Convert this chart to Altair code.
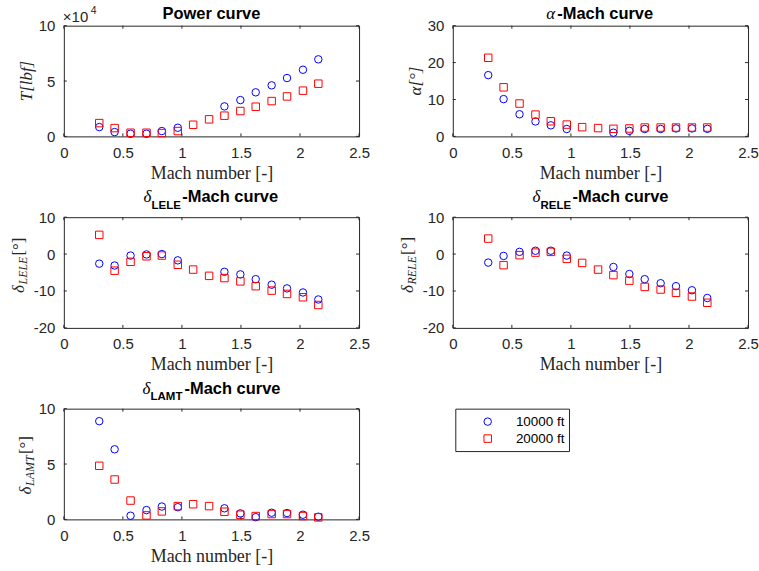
import altair as alt
import pandas as pd

# ---------------- data ----------------
series_names = ["10000 ft", "20000 ft"]
series_colors = ["#0000FF", "#FF0000"]
series_shapes = ["circle", "square"]

mach_10k = [0.30, 0.43, 0.565, 0.70, 0.83, 0.965, 1.36, 1.495, 1.625, 1.76, 1.89, 2.025, 2.155]
mach_20k = [0.30, 0.43, 0.565, 0.70, 0.83, 0.965, 1.095, 1.23, 1.36, 1.495, 1.625, 1.76, 1.89, 2.025, 2.155]

# thrust in units of 1e4 lbf
thrust_10k = [0.84, 0.39, 0.24, 0.24, 0.48, 0.78, 2.71, 3.28, 3.98, 4.61, 5.27, 6.02, 6.96]
thrust_20k = [1.20, 0.75, 0.33, 0.33, 0.30, 0.48, 1.05, 1.54, 1.87, 2.29, 2.68, 3.19, 3.61, 4.13, 4.76]

alpha_10k = [16.6, 10.1, 6.0, 4.05, 3.0, 2.0, 1.0, 1.5, 2.0, 2.0, 2.15, 2.15, 2.05]
alpha_20k = [21.3, 13.3, 8.9, 5.9, 4.1, 3.2, 2.5, 2.25, 2.05, 2.15, 2.4, 2.4, 2.4, 2.4, 2.4]

lele_10k = [-2.6, -3.1, -0.4, -0.1, 0.0, -1.7, -4.8, -5.5, -6.8, -8.3, -9.3, -10.4, -12.3]
lele_20k = [5.2, -4.5, -2.1, -0.6, -0.4, -2.9, -4.2, -5.9, -6.5, -7.4, -8.7, -9.9, -10.8, -11.7, -13.8]

rele_10k = [-2.3, -0.5, 0.6, 0.9, 0.9, -0.4, -3.5, -5.4, -6.8, -7.9, -8.7, -9.8, -11.9]
rele_20k = [4.2, -3.0, -0.3, 0.4, 0.6, -1.3, -2.4, -4.2, -5.7, -7.2, -8.9, -9.6, -10.5, -11.5, -13.2]

lamt_10k = [8.87, 6.33, 0.33, 0.84, 1.16, 1.10, 1.00, 0.54, 0.20, 0.60, 0.57, 0.42, 0.24]
lamt_20k = [4.84, 3.60, 1.70, 0.36, 0.72, 1.20, 1.37, 1.20, 0.69, 0.42, 0.30, 0.48, 0.48, 0.30, 0.18]

x_ticks = [0, 0.5, 1, 1.5, 2, 2.5]
x_domain = [0, 2.5]
x_title = "Mach number [-]"

# ---------------- styling ----------------
W, H = 296, 111
AX = "#262626"
SANS = "Liberation Sans"
SERIF = "Liberation Serif"
MSIZE = 56


def make_df(v10, v20):
    rows = []
    for m, v in zip(mach_10k, v10):
        rows.append({"mach": m, "value": v, "series": series_names[0]})
    for m, v in zip(mach_20k, v20):
        rows.append({"mach": m, "value": v, "series": series_names[1]})
    return pd.DataFrame(rows)


def txt(text, x, y, size, font, weight="normal", style="normal", align="left",
        baseline="middle", angle=None, color="#000000"):
    kw = dict(align=align, baseline=baseline, fontSize=size, font=font,
              fontWeight=weight, fontStyle=style, color=color)
    if angle is not None:
        kw["angle"] = angle
    return alt.Chart(pd.DataFrame({"t": [text]})).mark_text(**kw).encode(
        text="t:N", x=alt.value(x), y=alt.value(y))


color_enc = alt.Color("series:N", scale=alt.Scale(domain=series_names, range=series_colors), legend=None)
shape_enc = alt.Shape("series:N", scale=alt.Scale(domain=series_names, range=series_shapes), legend=None)


def panel(v10, v20, ydom, yticks, title_layers, ytitle_layers, extra=None):
    xs = alt.Scale(domain=x_domain, nice=False, zero=False)
    ys = alt.Scale(domain=ydom, nice=False, zero=False)
    xax = alt.Axis(values=x_ticks, title=x_title, labelExpr="'' + datum.value")
    yax = alt.Axis(values=yticks, title=None, labelExpr="'' + datum.value")
    pts = alt.Chart(make_df(v10, v20)).mark_point(
        filled=False, size=MSIZE, strokeWidth=1, opacity=1
    ).encode(
        x=alt.X("mach:Q", scale=xs, axis=xax, title=x_title),
        y=alt.Y("value:Q", scale=ys, axis=yax),
        color=color_enc,
        shape=shape_enc,
    )
    xt = pd.DataFrame({"mach": x_ticks})
    yt = pd.DataFrame({"value": yticks})
    tick_layers = [
        alt.Chart(xt).mark_rule(color=AX, strokeWidth=1).encode(
            x=alt.X("mach:Q", scale=xs, axis=xax, title=x_title), y=alt.value(H), y2=alt.value(H - 3)),
        alt.Chart(xt).mark_rule(color=AX, strokeWidth=1).encode(
            x=alt.X("mach:Q", scale=xs, axis=xax, title=x_title), y=alt.value(0), y2=alt.value(3)),
        alt.Chart(yt).mark_rule(color=AX, strokeWidth=1).encode(
            y=alt.Y("value:Q", scale=ys, axis=yax), x=alt.value(0), x2=alt.value(3)),
        alt.Chart(yt).mark_rule(color=AX, strokeWidth=1).encode(
            y=alt.Y("value:Q", scale=ys, axis=yax), x=alt.value(W - 3), x2=alt.value(W)),
    ]
    layers = [pts] + tick_layers + title_layers + ytitle_layers + (extra or [])
    return alt.layer(*layers).properties(width=W, height=H)


def delta_title(sub, x_delta, x_sub, x_rest):
    return [
        txt("δ", x_delta, -20, 17, SERIF, style="italic"),
        txt(sub, x_sub, -11.5, 11.5, SANS, weight="bold"),
        txt("-Mach curve", x_rest, -20, 16.5, SANS, weight="bold"),
    ]


def delta_ytitle(sub, xb, y_start, sub_len):
    return [
        txt("δ", xb, y_start, 17, SERIF, style="italic", baseline="alphabetic", angle=270, color=AX),
        txt(sub, xb + 3.5, y_start - 8.5, 12, SERIF, style="italic", baseline="alphabetic", angle=270, color=AX),
        txt("[°]", xb, y_start - 9.5 - sub_len, 17, SERIF, baseline="alphabetic", angle=270, color=AX),
    ]


# anchor that fixes the page origin (invisible)
anchor = alt.Chart(pd.DataFrame({"a": [0]})).mark_rule(strokeOpacity=0).encode(
    x=alt.value(-63), x2=alt.value(-62), y=alt.value(-24), y2=alt.value(-23))

p1 = panel(
    thrust_10k, thrust_20k, [0, 10], [0, 5, 10],
    [txt("Power curve", W / 2, -12, 16.5, SANS, weight="bold", align="center")],
    [txt("T[lbf]", -32, H / 2, 17, SERIF, style="italic", align="center",
         baseline="alphabetic", angle=270, color=AX)],
    extra=[txt("×10", -1, -9, 15, SANS, color=AX),
           txt("4", 27, -15, 10.5, SANS, color=AX),
           anchor],
)

p2 = panel(
    alpha_10k, alpha_20k, [0, 30], [0, 10, 20, 30],
    [txt("α", 93.7, -12, 17, SERIF, style="italic"),
     txt("-Mach curve", 104.7, -12, 16.5, SANS, weight="bold")],
    [txt("α[°]", -31.5, H / 2, 17, SERIF, style="italic", align="center",
         baseline="alphabetic", angle=270, color=AX)],
)

p3 = panel(
    lele_10k, lele_20k, [-20, 10], [-20, -10, 0, 10],
    delta_title("LELE", 80, 88, 118.7),
    delta_ytitle("LELE", -40, 76, 28),
)

p4 = panel(
    rele_10k, rele_20k, [-20, 10], [-20, -10, 0, 10],
    delta_title("RELE", 80, 88, 120),
    delta_ytitle("RELE", -40, 76, 28.7),
)

p5 = panel(
    lamt_10k, lamt_20k, [0, 10], [0, 5, 10],
    delta_title("LAMT", 79, 87, 121),
    delta_ytitle("LAMT", -33, 86, 31),
)

# legend panel
leg_df = pd.DataFrame({"series": series_names})
leg_y = alt.Y("series:N", scale=alt.Scale(type="point", domain=series_names, range=[13, 30], padding=0), axis=None)
legend_panel = alt.layer(
    alt.Chart(pd.DataFrame({"a": [0]})).mark_rect(fill="white", stroke=AX, strokeWidth=1).encode(
        x=alt.value(3), x2=alt.value(117), y=alt.value(0.5), y2=alt.value(43)),
    alt.Chart(leg_df).mark_point(filled=False, size=MSIZE, strokeWidth=1, opacity=1).encode(
        x=alt.value(35), y=leg_y, color=color_enc, shape=shape_enc),
    alt.Chart(leg_df).mark_text(align="right", baseline="middle", fontSize=13.5, font=SANS, color="#000000").encode(
        x=alt.value(112), y=leg_y, text="series:N"),
).properties(width=W, height=H, view=alt.ViewBackground(stroke=None))

chart = alt.concat(
    p1, p2, p3, p4, p5, legend_panel,
    columns=2,
    spacing={"row": 81, "column": 94},
    bounds="flush",
).properties(
    padding=0,
    background="white",
).configure_axis(
    labelFont=SANS,
    labelFontSize=15,
    labelColor=AX,
    labelPadding=9,
    labelFlush=False,
    labelOverlap=False,
    domain=False,
    ticks=False,
    grid=False,
    titleFont=SERIF,
    titleFontSize=18,
    titleFontWeight="normal",
    titleColor=AX,
    titlePadding=4,
).configure_view(
    stroke=AX,
    strokeWidth=1,
)

chart.save("out.html", embed_options={"renderer": "svg", "actions": False})
